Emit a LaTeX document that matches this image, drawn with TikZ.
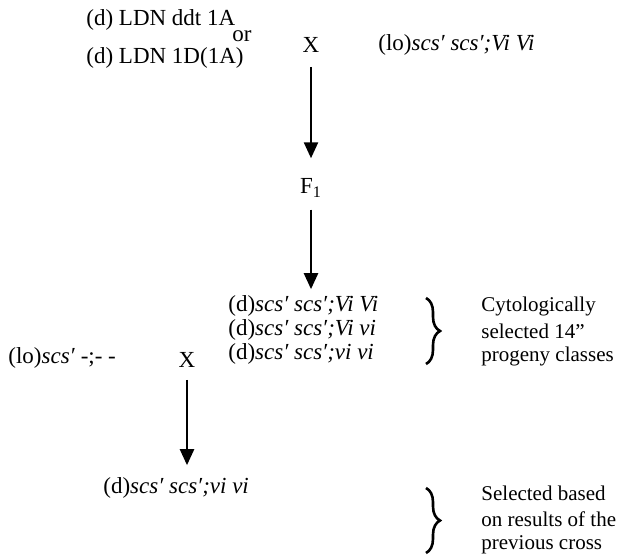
\documentclass[tikz,border=0pt]{standalone}
\usepackage{fontspec}
\setmainfont{Liberation Serif}
\usetikzlibrary{arrows.meta,decorations.pathreplacing}
\tikzset{
  txt/.style={anchor=west, inner sep=0pt, font=\fontsize{11.5}{13}\selectfont},
  note/.style={anchor=west, inner sep=0pt, font=\fontsize{10.5}{12}\selectfont},
  cross/.style={inner sep=0pt, font=\fontsize{11.5}{13}\selectfont},
  flow/.style={-{Triangle[length=8pt,width=7pt]}, line width=1.2pt},
  grp/.style={decorate, decoration={brace, amplitude=7pt}, line width=1.3pt},
}

\begin{document}
\begin{tikzpicture}[x=0.5pt, y=-0.5pt]
\useasboundingbox (0,0) rectangle (619,555);
% first cross
\node[txt] at (86,20)  (ddt) {(d) LDN ddt 1A};
\node[txt] at (232,36) (or)  {or};
\node[txt] at (86,58)  (dd)  {(d) LDN 1D(1A)};
\node[cross] at (311,45) (x1) {X};
\node[txt] at (378,45) (lo1) {(lo)\textit{scs′ scs′;Vi Vi}};
% F1
\node[cross] at (311,188) (f1) {F\textsubscript{1}};
% selected progeny
\node[txt] at (228,306) (d1) {(d)\textit{scs′ scs′;Vi Vi}};
\node[txt] at (228,330) (d2) {(d)\textit{scs′ scs′;Vi vi}};
\node[txt] at (228,354) (d3) {(d)\textit{scs′ scs′;vi vi}};
\node[note] at (481,306) (c1) {Cytologically};
\node[note] at (481,331) (c2) {selected 14''};
\node[note] at (481,356) (c3) {progeny classes};
\coordinate (b1t) at (426,298);
\coordinate (b1b) at (426,364);
% second cross
\node[txt] at (8,358) (lo2) {(lo)\textit{scs′} -;- -};
\node[cross] at (187,360) (x2) {X};
\node[txt] at (103,488) (d4) {(d)\textit{scs′ scs′;vi vi}};
\node[note] at (481,493) (s1) {Selected based};
\node[note] at (481,519) (s2) {on results of the};
\node[note] at (481,545) (s3) {previous cross};
\coordinate (b2t) at (426,488);
\coordinate (b2b) at (426,553);
% flows
\draw[flow, shorten <=7pt, shorten >=10pt] (x1.south) -- (f1.north);
\draw[flow, shorten <=6pt, shorten >=3pt] (f1.south) -- (f1.south |- d1.north);
\draw[flow, shorten <=6pt, shorten >=6pt] (x2.south) -- (x2.south |- d4.north);
\draw[grp] (b1t) -- (b1b);
\draw[grp] (b2t) -- (b2b);
\end{tikzpicture}
\end{document}
